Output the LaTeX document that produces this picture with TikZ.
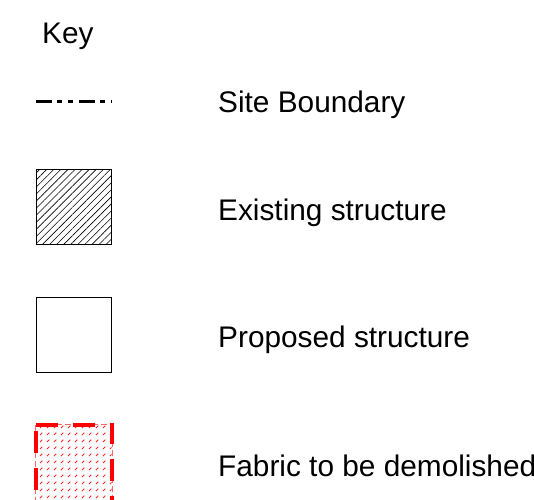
\documentclass[tikz,border=0pt]{standalone}
\usepackage{fontspec}
\setmainfont{Liberation Sans}
\usepackage{tikz}
\usetikzlibrary{patterns,patterns.meta,positioning}

% small red strokes used for the demolition fill
\tikzdeclarepattern{
  name=demostrokes,
  type=uncolored,
  bounding box={(0pt,0pt) and (6.5pt,6.5pt)},
  tile size={(6.5pt,6.5pt)},
  code={
    \draw[line width=1pt] (1pt,1pt) -- (3.5pt,3.5pt);
  }
}

\tikzset{
  keysq/.style={draw, line width=1.4pt, minimum width=75pt, minimum height=75pt, inner sep=0pt},
  keytext/.style={anchor=base west, inner sep=0pt, font=\fontsize{29.8}{36}\selectfont}
}

\begin{document}
\begin{tikzpicture}[x=1pt, y=-1pt]
    \useasboundingbox (0,0) rectangle (534,499);

    % title
    \node[keytext] (key) at (42,43) {Key};

    % site boundary
    \coordinate (sbA) at (36,101);
    \coordinate (sbB) at (112,101);
    \draw[line width=3pt, dash pattern=on 16pt off 5pt on 5pt off 6pt on 5pt off 6pt] (sbA) -- (sbB);
    \node[keytext] (sitelbl) at (218,112) {Site Boundary};

    % existing structure
    \node[keysq, pattern={Lines[angle=45, distance=5pt, line width=0.6pt]}] (existing) at (74,207) {};
    \node[keytext] (existlbl) at (218,220) {Existing structure};

    % proposed structure
    \node[keysq] (proposed) at (74,335) {};
    \node[keytext] (proplbl) at (218,347) {Proposed structure};

    % to be demolished
    \node[keysq, draw=none, pattern=demostrokes, pattern color=red!85] (demolish) at (74,463) {};
    \draw[red!60, line width=0.8pt, dash pattern=on 6pt off 3pt] (demolish.north west) rectangle (demolish.south east);
    \draw[red, line width=3.5pt, dash pattern=on 22pt off 15pt] (demolish.north west) -- (demolish.north east) -- (demolish.south east);
    \draw[red, line width=3.5pt, dash pattern=on 22pt off 15pt, dash phase=-6pt] (demolish.north west) -- (demolish.south west);
    \node[keytext] (demolbl) at (218,476) {Fabric to be demolished};
\end{tikzpicture}
\end{document}
